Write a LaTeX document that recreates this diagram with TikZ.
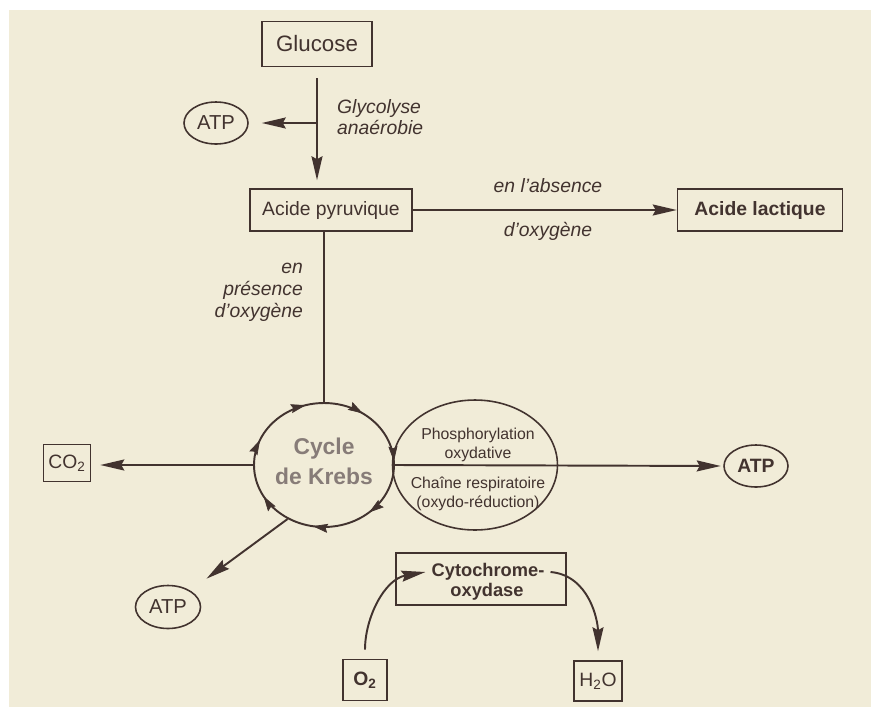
\documentclass[tikz,border=0pt]{standalone}
\usepackage{fontspec}
\setmainfont{Liberation Sans}
\usetikzlibrary{arrows.meta,shapes.geometric,decorations.markings}
\definecolor{page}{HTML}{F1ECD8}
\definecolor{ink}{HTML}{42332F}
\definecolor{krebsgray}{HTML}{877C78}
\tikzset{
  cell box/.style={draw=ink,line width=.9pt,inner sep=0pt},
  cell oval/.style={ellipse,draw=ink,line width=.9pt,inner sep=0pt},
  cell line/.style={ink,line width=1.1pt},
  cell arrow/.style={ink,line width=1.1pt,-{Stealth[length=4.8mm,width=2.2mm,inset=.6mm]}},
  cell text/.style={text=ink,font=\fontsize{11}{13}\selectfont},
  cell bold/.style={text=ink,font=\fontsize{11}{13}\selectfont\bfseries},
  cell small/.style={text=ink,font=\fontsize{9}{10.5}\selectfont},
  cell note/.style={text=ink,font=\fontsize{11}{12.3}\selectfont\itshape},
  krebs turn/.style={ink,decoration={markings,
      mark=between positions 0.02 and 1 step 0.142857 with {\arrow{Stealth[length=3mm,width=1.8mm,inset=.4mm]}}},
    postaction={decorate}}
}

\begin{document}
\begin{tikzpicture}[x=0.02cm,y=-0.02cm]
  \useasboundingbox (0,0) rectangle (883,707);
  \fill[white] (0,0) rectangle (883,707);
  \fill[page] (9,10) rectangle (871,707);
  % glycolyse
  \node[cell box,cell text,font=\fontsize{12.7}{15}\selectfont,minimum width=2.2cm,minimum height=.9cm] (glucose) at (317,44) {Glucose};
  \node[cell oval,cell text,font=\fontsize{11.5}{13}\selectfont,minimum width=1.28cm,minimum height=.84cm] (atpg) at (216,123) {ATP};
  \node[cell note,anchor=west,align=left] (glyco) at (331,117) {Glycolyse\\anaérobie};
  \node[cell box,cell text,minimum width=3.24cm,minimum height=.84cm] (pyr) at (331,210) {Acide pyruvique};
  \node[cell box,cell bold,minimum width=3.3cm,minimum height=.84cm] (lactic) at (760,210) {Acide lactique};
  \node[cell note] (absence) at (548,186) {en l'absence};
  \node[cell note] (oxyg) at (548,231) {d'oxygène};
  \node[cell note,anchor=east,align=right,font=\fontsize{11}{12.6}\selectfont\itshape] (presence) at (309,292) {en\\présence\\d'oxygène};
  % krebs and respiratory chain
  \node[cell oval,line width=1.1pt,minimum width=2.8cm,minimum height=2.48cm] (krebs) at (324,465) {};
  \node[text=krebsgray,font=\fontsize{13}{17}\selectfont\bfseries,align=center] (krebst) at (324,461) {Cycle\\de Krebs};
  \node[cell oval,minimum width=3.3cm,minimum height=2.6cm] (oxphos) at (475,465) {};
  \node[cell small,align=center] (phos) at (478,445) {Phosphorylation\\oxydative};
  \node[cell small,align=center,font=\fontsize{9}{10.8}\selectfont] (chain) at (478,494) {Chaîne respiratoire\\(oxydo-réduction)};
  \node[cell oval,cell bold,minimum width=1.28cm,minimum height=.84cm] (atpr) at (756,466) {ATP};
  \node[cell box,cell text,minimum width=.94cm,minimum height=.74cm] (co2) at (67,463) {CO\textsubscript{2}};
  \node[cell oval,cell text,font=\fontsize{11.5}{13}\selectfont,minimum width=1.3cm,minimum height=.86cm] (atpl) at (168,607) {ATP};
  % cytochrome
  \node[cell box,minimum width=3.4cm,minimum height=1.04cm] (cyto) at (481,579) {};
  \node[cell bold,font=\fontsize{10.4}{12}\selectfont\bfseries] (cytoa) at (488,572) {Cytochrome-};
  \node[cell bold,font=\fontsize{10.4}{12}\selectfont\bfseries] (cytob) at (487,592) {oxydase};
  \node[cell box,cell bold,minimum width=.88cm,minimum height=.82cm] (o2) at (365,680) {O\textsubscript{2}};
  \node[cell box,cell text,minimum width=.96cm,minimum height=.8cm] (h2o) at (598,681) {H\textsubscript{2}O};

  \draw[cell arrow,shorten <=2.2mm,shorten >=1.6mm] (glucose.south) -- (glucose.south |- pyr.north);
  \draw[cell arrow,shorten >=2.6mm] (glucose.south |- atpg.east) -- (atpg.east);
  \draw[cell arrow] (pyr.east) -- (lactic.west);
  \draw[cell line] (pyr.south -| krebs.north) -- (krebs.north);
  \path[krebs turn] (krebs.center) ++(112:1.4cm and 1.24cm)
    arc[start angle=112,end angle=-248,x radius=1.4cm,y radius=1.24cm];
  \draw[cell arrow,shorten >=1.8mm] (krebs.west) -- (krebs.west -| co2.east);
  \draw[cell arrow,shorten >=.5mm] (krebs.east) -- (atpr.west);
  \draw[cell arrow,shorten >=4mm] (krebs.-124) -- (atpl);
  \draw[cell arrow,shorten <=1.8mm] (o2.north) to[out=90,in=190] (cytoa.west);
  \draw[cell arrow,shorten >=1.8mm] (cytoa.east) to[out=-5,in=90] (h2o.north);
\end{tikzpicture}
\end{document}
